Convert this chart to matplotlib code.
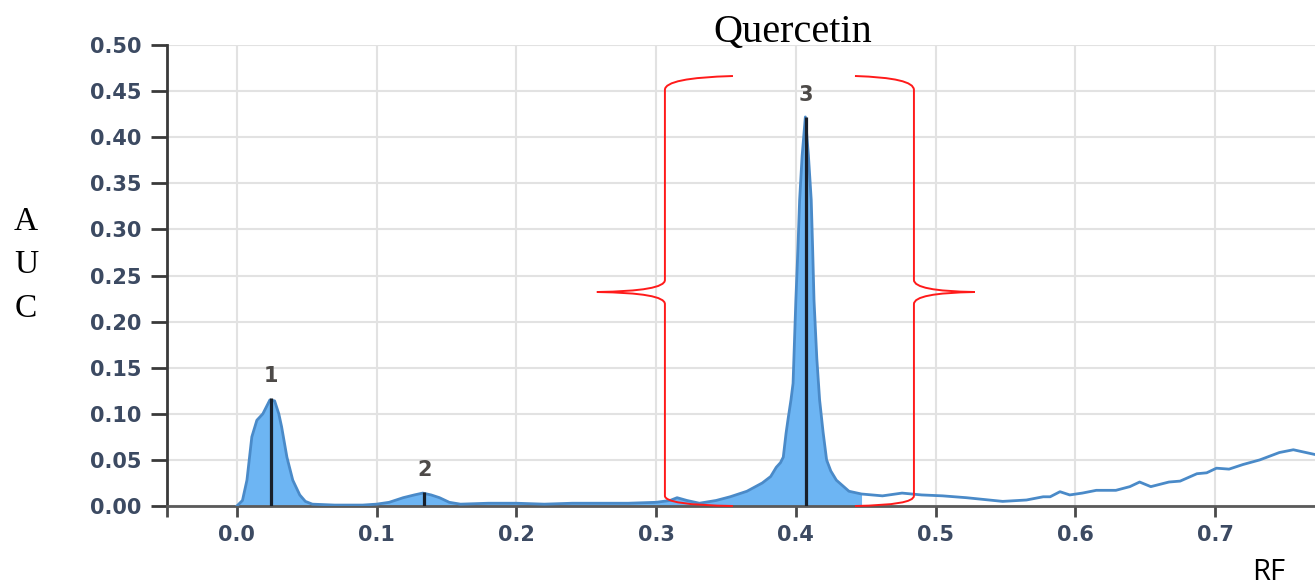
import numpy as np
import matplotlib
matplotlib.use("Agg")
import matplotlib.pyplot as plt
from matplotlib.path import Path
from matplotlib.patches import PathPatch

# densitometric scan
rf = [0.0, 0.004, 0.0072, 0.0107, 0.0143, 0.0186, 0.0236, 0.027, 0.030, 0.032,
      0.0358, 0.040, 0.045, 0.049, 0.054, 0.07, 0.09, 0.10, 0.109, 0.119,
      0.127, 0.133, 0.139, 0.145, 0.152, 0.16, 0.18, 0.20, 0.22, 0.24,
      0.26, 0.28, 0.30, 0.31, 0.315, 0.322, 0.331, 0.343, 0.353, 0.365,
      0.376, 0.382, 0.386, 0.389, 0.391, 0.393, 0.3945, 0.3965, 0.398, 0.400,
      0.4015, 0.4027, 0.4045, 0.4068, 0.409, 0.411, 0.412, 0.413, 0.415, 0.417,
      0.4195, 0.422, 0.425, 0.429, 0.438, 0.447, 0.462, 0.476, 0.49, 0.505,
      0.522, 0.535, 0.548, 0.565, 0.577, 0.582, 0.589, 0.596, 0.605, 0.615,
      0.629, 0.639, 0.646, 0.654, 0.667, 0.675, 0.687, 0.694, 0.701, 0.710,
      0.720, 0.732, 0.746, 0.756, 0.771]
auc = [0.0, 0.006, 0.028, 0.075, 0.093, 0.100, 0.115, 0.114, 0.100, 0.086,
       0.053, 0.028, 0.012, 0.005, 0.002, 0.001, 0.001, 0.002, 0.004, 0.009,
       0.012, 0.014, 0.012, 0.009, 0.004, 0.002, 0.003, 0.003, 0.002, 0.003,
       0.003, 0.003, 0.004, 0.006, 0.009, 0.006, 0.003, 0.006, 0.010, 0.016,
       0.025, 0.032, 0.042, 0.047, 0.053, 0.079, 0.095, 0.115, 0.133, 0.223,
       0.280, 0.332, 0.380, 0.422, 0.380, 0.332, 0.280, 0.223, 0.160, 0.115,
       0.080, 0.050, 0.038, 0.028, 0.016, 0.013, 0.011, 0.014, 0.012, 0.011,
       0.009, 0.007, 0.005, 0.0065, 0.010, 0.010, 0.0155, 0.012, 0.014, 0.017,
       0.017, 0.021, 0.026, 0.021, 0.026, 0.027, 0.035, 0.036, 0.041, 0.040,
       0.045, 0.050, 0.058, 0.061, 0.056]

peak_labels = ["1", "2", "3"]
peak_rf = [0.0243, 0.134, 0.407]
peak_auc = [0.117, 0.015, 0.422]

fill_end = 0.447

x_ticks = [-0.05, 0.0, 0.1, 0.2, 0.3, 0.4, 0.5, 0.6, 0.7]
x_labels = ["", "0.0", "0.1", "0.2", "0.3", "0.4", "0.5", "0.6", "0.7"]
y_ticks = [0.0, 0.05, 0.10, 0.15, 0.20, 0.25, 0.30, 0.35, 0.40, 0.45, 0.50]


def brace(ax, x_line, x_end, x_tip, y_top, y_tip):
    # curly bracket drawn in data coords
    verts = [
        (x_end, y_top),
        (x_line, y_top - 0.002), (x_line, y_top - 0.015),
        (x_line, y_tip + 0.013),
        (x_line, y_tip + 0.001), (x_tip, y_tip),
        (x_line, y_tip - 0.001), (x_line, y_tip - 0.013),
        (x_line, 0.011),
        (x_line, 0.001), (x_end, 0.0),
    ]
    codes = [Path.MOVETO, Path.CURVE3, Path.CURVE3, Path.LINETO,
             Path.CURVE3, Path.CURVE3, Path.CURVE3, Path.CURVE3,
             Path.LINETO, Path.CURVE3, Path.CURVE3]
    ax.add_patch(PathPatch(Path(verts, codes), facecolor="none",
                           edgecolor="#ff1a1a", lw=1.4, clip_on=False, zorder=5))


fig = plt.figure(figsize=(13.15, 5.87), dpi=100)
ax = fig.add_axes([0.127, 0.138, 0.873, 0.7853])

x = np.array(rf)
y = np.array(auc)
mask = x <= fill_end
ax.fill_between(x[mask], 0, y[mask], color="#6db5f3", lw=0, zorder=2)
ax.plot(x, y, color="#4a8ac8", lw=2.0, zorder=3)

ax.vlines(peak_rf, 0, peak_auc, color="#18202b", lw=2.3, zorder=4)
for lab, px, py in zip(peak_labels, peak_rf, peak_auc):
    ax.text(px, py + 0.024, lab, ha="center", va="center", fontsize=15,
            fontweight="bold", color="#4d4a48", zorder=6)

brace(ax, 0.3063, 0.355, 0.2576, 0.4664, 0.2321)
brace(ax, 0.4845, 0.4423, 0.528, 0.4664, 0.2321)

ax.set_xlim(-0.05, 0.7715)
ax.set_ylim(0, 0.5)
ax.set_xticks(x_ticks)
ax.set_xticklabels(x_labels, fontsize=15, fontweight="bold", color="#3c4a62")
ax.set_yticks(y_ticks)
ax.set_yticklabels([f"{v:.2f}" for v in y_ticks], fontsize=15,
                   fontweight="bold", color="#3c4a62")

ax.grid(True, color="#e2e2e2", lw=1.5, zorder=0)
ax.set_axisbelow(True)
for side in ["top", "right"]:
    ax.spines[side].set_visible(False)
ax.spines["left"].set_color("#3a3a3a")
ax.spines["left"].set_linewidth(2)
ax.spines["bottom"].set_color("#5a5a5a")
ax.spines["bottom"].set_linewidth(2)

ax.tick_params(axis="y", length=11.5, width=2, color="#3a3a3a", pad=7)
ax.tick_params(axis="x", length=8, width=2, color="#4a4a4a", pad=6)

serif = "Liberation Serif"
fig.text(0.603, 0.928, "Quercetin", ha="center", va="baseline",
         fontsize=29, family=serif)
for letter, yy in zip(["A", "U", "C"], [222, 265, 309]):
    fig.text(26 / 1315, 1 - yy / 587, letter, ha="center", va="center",
             fontsize=24, family=serif)
fig.text(1252 / 1315, (587 - 558) / 587, "RF", ha="left", va="top",
         fontsize=21, family="Open Sans")

fig.savefig("out.png", dpi=100)
